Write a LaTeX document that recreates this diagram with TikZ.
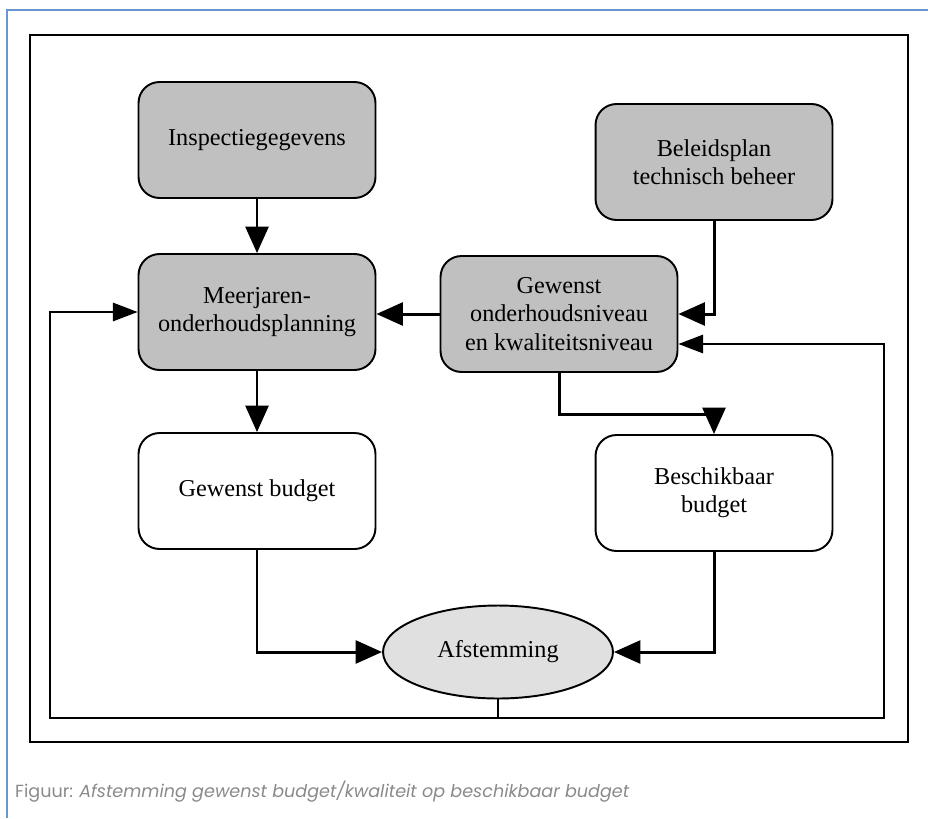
\documentclass[tikz,border=0pt]{standalone}
\usepackage{fontspec}
\setmainfont{Liberation Serif}
\newfontfamily\capfont{Poppins}
\usetikzlibrary{arrows.meta,shapes.geometric}
\definecolor{boxgray}{HTML}{C0C0C0}
\definecolor{ovalgray}{HTML}{E0E0E0}
\definecolor{framblue}{HTML}{6A95D3}
\definecolor{capgray}{HTML}{8A8A8A}
\begin{document}
\begin{tikzpicture}[x=0.02cm,y=-0.02cm,
		blok/.style={draw,line width=1.1pt,rounded corners=0.42cm,minimum width=4.74cm,minimum height=2.32cm,
			align=center,font=\fontsize{13.8}{16}\selectfont},
		grijs/.style={blok,fill=boxgray},
		wit/.style={blok,fill=white},
		ovaal/.style={ellipse,draw,line width=1.1pt,fill=ovalgray,minimum width=4.6cm,minimum height=1.86cm,
			font=\fontsize{13.8}{16}\selectfont},
		pijl/.style={line width=1.7pt,-{Triangle[length=15pt,width=13pt]}},
		terug/.style={line width=0.8pt,-{Triangle[length=14pt,width=10.5pt]}}]
				\useasboundingbox (0,0) rectangle (928,818);
				\draw[framblue,line width=1.2pt] (7,818)--(7,10)--(928,10);
				\draw[line width=1.6pt] (30,35) rectangle (908,742);
				\node[grijs] (insp) at (257,140) {Inspectiegegevens};
				\node[grijs] (beleid) at (714,162) {Beleidsplan\\technisch beheer};
				\node[grijs] (mop) at (257,312) {Meerjaren-\\onderhoudsplanning};
				\node[grijs] (niveau) at (559,314) {Gewenst\\onderhoudsniveau\\en kwaliteitsniveau};
				\node[wit] (gbudget) at (257,491) {Gewenst budget};
				\node[wit] (bbudget) at (714,493) {Beschikbaar\\budget};
				\node[ovaal] (afst) at (498,652) {Afstemming};
				\coordinate (fb) at (498,718);
				\coordinate (fbl) at (50,718);
				\coordinate (fbr) at (884,718);
				\draw[pijl] (insp)--(mop);
				\draw[pijl] (mop)--(gbudget);
				\draw[pijl] (niveau.west)--(niveau.west -| mop.east);
				\draw[pijl] (beleid.south)|-(niveau.east);
				\draw[pijl] (niveau.south)--++(0,42)-|(bbudget.north);
				\draw[pijl] (gbudget.south)|-(afst.west);
				\draw[pijl] (bbudget.south)|-(afst.east);
				\draw[terug] (afst.south)--(fb)--(fbl)|-(mop.west);
				\draw[terug] (fb)--(fbr)|-([yshift=-0.6cm]niveau.east);
				\node[anchor=west,text=capgray,font=\capfont\fontsize{10}{12}\selectfont] (cap) at (9,792)
					{Figuur: \textit{Afstemming gewenst budget/kwaliteit op beschikbaar budget}};
			\end{tikzpicture}
\end{document}
